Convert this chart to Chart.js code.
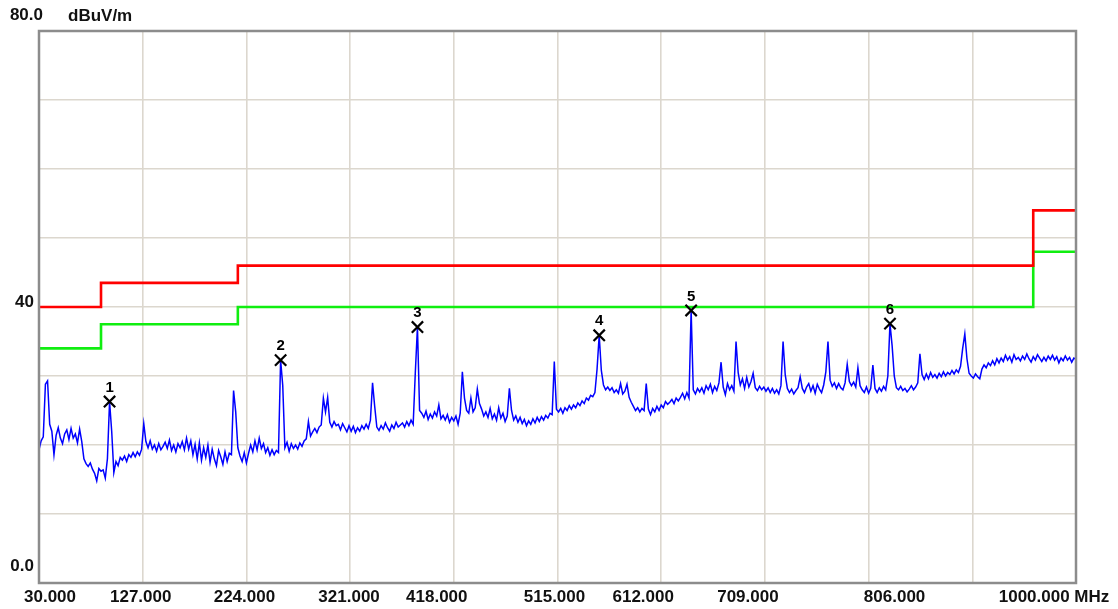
<!DOCTYPE html>
<html>
<head>
<meta charset="utf-8">
<script src="https://cdn.jsdelivr.net/npm/chart.js@4.4.1/dist/chart.umd.min.js"></script>
<style>
  html, body { margin: 0; padding: 0; background: #fff; }
  canvas { display: block; }
</style>
</head>
<body>
<canvas id="chart" width="1118" height="609"></canvas>
<script>
// ---- sweep: 30 MHz .. 1000 MHz, one reading every 2 MHz ----
const FREQ_START = 30;
const FREQ_STEP = 2;

const level = [
  19.3, 20.6, 21.2, 28.8, 29.3, 23.0, 22.0, 18.6, 21.4, 22.5,
  21.0, 20.2, 21.6, 22.2, 20.8, 22.4, 21.0, 21.6, 20.3, 22.3,
  20.5, 18.0, 17.3, 16.9, 17.4, 16.5, 15.9, 14.8, 16.6, 16.2,
  16.4, 15.2, 18.0, 26.3, 22.0, 16.0, 17.6, 17.0, 18.2, 17.8,
  18.4, 17.6, 18.6, 18.2, 18.9, 18.3, 19.0, 18.5, 19.4, 23.1,
  20.5, 19.6, 20.6, 19.4, 20.0, 19.1, 20.2, 19.3, 19.8, 20.4,
  19.5, 20.7, 19.2, 20.0, 19.0, 20.2, 19.6, 20.5, 19.3, 21.0,
  19.4, 20.6, 18.6, 20.1, 18.0, 20.3, 17.8, 19.6, 18.2, 20.0,
  17.5, 19.4, 18.0, 17.0, 19.2, 18.3, 17.2, 19.0, 17.6, 18.8,
  18.6, 27.9, 24.8, 19.6, 18.4, 17.6, 18.9, 17.4, 18.8, 20.0,
  19.0, 20.6, 19.3, 21.0, 19.5, 20.2, 18.9, 19.6, 18.5, 19.3,
  18.6, 19.2, 18.9, 32.3, 28.6, 19.6, 20.4, 19.1, 20.2, 19.5,
  20.0, 19.4, 20.3, 19.8, 20.6, 20.9, 23.4, 21.3, 21.9, 22.4,
  21.8, 22.6, 22.9, 26.8, 24.8, 26.9, 23.3, 22.6, 23.4, 22.8,
  23.0, 22.2, 23.1, 22.5, 21.9, 22.8, 22.0, 22.7, 21.8, 22.5,
  22.0, 22.8, 22.3, 23.0, 22.4, 23.6, 29.0, 25.6, 22.6, 22.1,
  22.8, 22.3, 23.2, 22.5, 22.0, 22.9, 22.4, 23.3, 22.6, 22.9,
  23.2, 22.6, 23.4, 22.8, 23.6, 23.0, 30.5, 37.1, 25.0, 24.6,
  24.0, 24.9, 23.7, 24.5, 23.9, 24.8, 24.2, 25.8, 23.8, 24.3,
  23.6, 24.4, 23.3, 24.0, 23.5, 24.2, 23.0, 24.6, 30.6, 26.8,
  25.0, 24.6, 26.8, 24.8, 25.4, 28.1, 26.0, 25.2, 24.2, 24.8,
  24.0, 25.3, 23.8, 24.5, 23.6, 25.4, 23.9, 24.6, 23.4, 24.2,
  28.2, 25.0, 23.6, 24.2, 23.3, 24.0, 23.1, 23.7, 22.8, 23.5,
  23.0, 23.8, 23.2, 24.0, 23.4, 24.1, 23.6, 24.3, 23.9, 24.6,
  24.4, 32.1, 25.2, 24.8, 25.3, 24.6, 25.4, 25.0, 25.7, 25.2,
  25.8, 25.4, 26.1, 25.7, 26.4, 26.0, 26.8, 26.5, 27.2, 27.0,
  27.6, 31.0, 35.9, 30.8, 28.7, 28.0, 28.4, 27.9, 28.3, 27.6,
  28.0, 27.5, 28.9, 27.4, 27.8, 28.8, 26.9, 26.2, 25.6, 25.0,
  25.4, 24.8, 25.3, 25.0, 28.9, 25.2, 24.4, 25.3, 24.8, 25.6,
  25.0, 25.8, 25.4, 26.3, 25.9, 26.2, 26.6, 26.0, 26.8, 26.4,
  26.9, 27.5, 26.7, 27.6, 26.8, 39.5, 28.0, 27.4, 28.2, 27.7,
  28.3, 27.5, 28.6, 28.0, 28.8, 27.6, 28.5, 27.9, 29.0, 32.0,
  28.4, 27.3, 28.9, 28.0, 28.6, 27.8, 35.0, 30.5, 28.7, 29.6,
  28.2, 29.8, 28.4, 29.2, 30.4, 28.3, 27.9, 28.5, 28.0, 28.4,
  27.8, 28.3, 27.6, 28.2, 27.5, 28.0, 27.4, 28.6, 35.0, 30.2,
  28.2, 27.6, 28.1, 27.4, 27.9, 28.3, 29.9, 28.2, 27.6, 28.4,
  28.9, 27.8, 28.6, 27.5, 28.8, 28.1, 27.6, 28.7, 30.6, 35.0,
  29.4, 28.5, 29.0, 28.2, 28.9, 28.3, 28.0, 29.0, 31.7, 29.2,
  28.6, 29.1, 28.4, 31.2, 28.6, 28.0, 27.6, 28.4, 27.5, 28.2,
  31.6, 28.2, 27.6, 28.3, 27.8, 28.5, 28.0, 30.0, 37.6, 34.4,
  30.0, 28.3, 28.0, 28.5, 27.9, 28.2, 27.7, 28.1, 28.6, 28.0,
  28.4, 29.0, 33.2, 30.2, 29.5, 30.3, 29.6, 30.5, 29.8, 30.2,
  29.7, 30.4, 29.9, 30.6, 30.0, 30.5, 30.2, 30.8, 30.3, 30.9,
  30.5, 31.4, 34.0, 36.1, 32.5, 30.4, 30.0, 29.7, 30.3, 29.9,
  29.6, 31.0, 31.6, 31.2, 31.9, 31.5, 32.2, 31.6, 32.5, 31.9,
  32.6, 32.1, 33.0, 32.3, 32.8, 32.0, 33.1, 32.4, 32.7, 32.2,
  32.9, 32.4, 33.2, 32.5, 32.0, 32.8, 32.3, 33.1, 32.6, 32.1,
  32.7, 32.2, 32.9, 32.4, 33.0, 32.3, 32.8, 31.9, 32.6, 32.2,
  32.9, 32.3, 32.7, 32.0, 32.6, 32.4
];
const freq = level.map((_, i) => FREQ_START + i * FREQ_STEP);

// limit lines (each level holds from its frequency to the next one)
const limitFreq   = [30, 88, 216, 960, 1000];
const limitLevel  = [40, 43.5, 46, 54, 54];   // red
const marginLevel = [34, 37.5, 40, 48, 48];   // green

// peak markers
const markerNo    = [1, 2, 3, 4, 5, 6];
const markerFreq  = [96, 256, 384, 554, 640, 826];
const markerLevel = [26.3, 32.3, 37.1, 35.9, 39.5, 37.6];

// axes
const xTickValues = [30, 127, 224, 321, 418, 515, 612, 709, 806, 903, 1000];
const xTickLabels = ['30.000', '127.000', '224.000', '321.000', '418.000', '515.000',
                     '612.000', '709.000', '806.000', '', '1000.000 MHz'];
const yLabelValues = [80, 40, 0];
const yLabelTexts  = ['80.0', '40', '0.0'];
const yUnit = 'dBuV/m';

// ---- layout (px) ----
const X_LABEL_SHIFT = [11, -2, -2, -1, -17, -3, -18, -17, 26, 0, -22];
const Y_LABEL_RIGHT = [43, 34, 34];
const Y_LABEL_DY    = [-16, -5, -17];
const LABEL_FONT = 'bold 17px "Liberation Sans", Arial, sans-serif';

const toXY = (xs, ys) => xs.map((x, i) => ({ x: x, y: ys[i] }));

const framePlugin = {
  id: 'frame',
  afterDraw(chart) {
    const ctx = chart.ctx;
    const a = chart.chartArea;
    const xs = chart.scales.x, ys = chart.scales.y;
    ctx.save();
    // plot frame
    ctx.strokeStyle = '#8c8c8c';
    ctx.lineWidth = 2.5;
    ctx.strokeRect(a.left, a.top, a.right - a.left, a.bottom - a.top);

    // marker numbers
    ctx.fillStyle = '#000';
    ctx.font = 'bold 15px "Liberation Sans", Arial, sans-serif';
    ctx.textAlign = 'center';
    ctx.textBaseline = 'middle';
    markerNo.forEach((n, i) => {
      ctx.fillText(String(n), xs.getPixelForValue(markerFreq[i]),
                   ys.getPixelForValue(markerLevel[i]) - 14);
    });

    // x labels
    ctx.font = LABEL_FONT;
    ctx.fillStyle = '#111';
    xTickValues.forEach((v, i) => {
      if (!xTickLabels[i]) return;
      ctx.fillText(xTickLabels[i], xs.getPixelForValue(v) + X_LABEL_SHIFT[i], a.bottom + 14);
    });

    // y labels
    ctx.textAlign = 'right';
    yLabelValues.forEach((v, i) => {
      ctx.fillText(yLabelTexts[i], Y_LABEL_RIGHT[i], ys.getPixelForValue(v) + Y_LABEL_DY[i]);
    });
    ctx.textAlign = 'left';
    ctx.fillText(yUnit, 68, 16);
    ctx.restore();
  }
};

new Chart(document.getElementById('chart'), {
  type: 'line',
  data: {
    datasets: [
      {
        type: 'scatter',
        data: toXY(markerFreq, markerLevel),
        pointStyle: 'crossRot',
        pointRadius: 8,
        pointBorderWidth: 2.2,
        borderColor: '#000',
        backgroundColor: '#000',
        order: 0
      },
      {
        data: toXY(freq, level),
        borderColor: '#0000ff',
        borderWidth: 1.5,
        pointRadius: 0,
        tension: 0,
        order: 1
      },
      {
        data: toXY(limitFreq, limitLevel),
        borderColor: '#ff0000',
        borderWidth: 2.6,
        stepped: 'before',
        pointRadius: 0,
        order: 2
      },
      {
        data: toXY(limitFreq, marginLevel),
        borderColor: '#10ee10',
        borderWidth: 2.6,
        stepped: 'before',
        pointRadius: 0,
        order: 3
      }
    ]
  },
  options: {
    responsive: false,
    animation: false,
    events: [],
    layout: { padding: { left: 39, right: 42, top: 31, bottom: 26 } },
    plugins: { legend: { display: false }, tooltip: { enabled: false } },
    scales: {
      x: {
        type: 'linear',
        min: 30,
        max: 1000,
        afterBuildTicks: s => { s.ticks = xTickValues.map(v => ({ value: v })); },
        afterFit: s => { s.height = 0; },
        ticks: { display: false },
        border: { display: false },
        grid: { color: '#dcd7ce', lineWidth: 1.6, drawTicks: false }
      },
      y: {
        min: 0,
        max: 80,
        ticks: { display: false, stepSize: 10 },
        afterFit: s => { s.width = 0; },
        border: { display: false },
        grid: { color: '#dcd7ce', lineWidth: 1.6, drawTicks: false }
      }
    }
  },
  plugins: [framePlugin]
});
</script>
</body>
</html>
